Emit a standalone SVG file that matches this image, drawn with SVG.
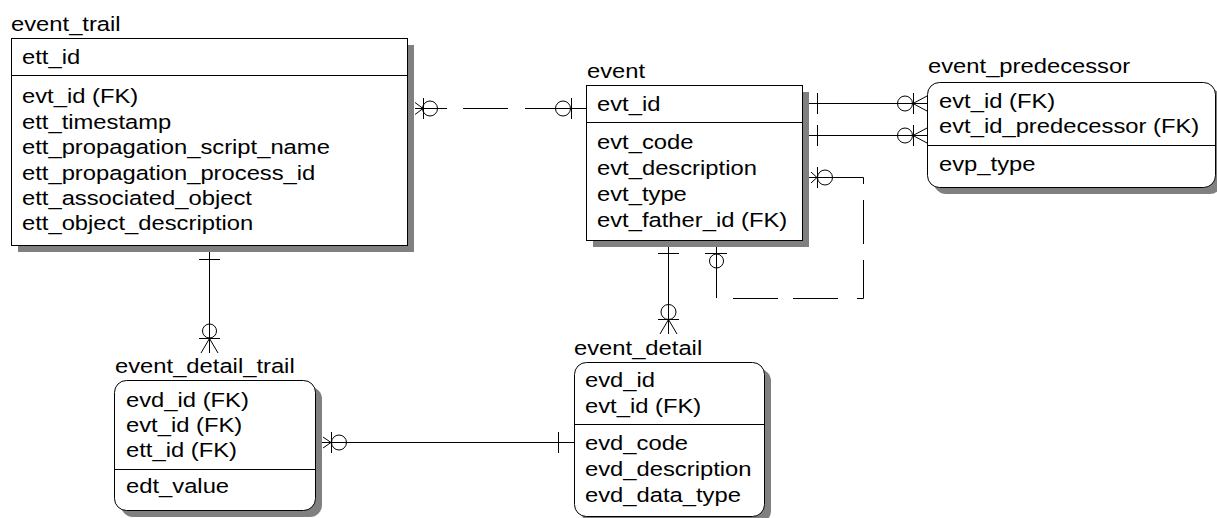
<svg xmlns="http://www.w3.org/2000/svg" width="1217" height="518" viewBox="0 0 1217 518">
<style>
  text { font-family: "Liberation Sans", Arial, sans-serif; font-size: 20.5px; fill: #000; }
  .box { fill: #fff; stroke: #000; stroke-width: 1; }
  .shadow { fill: #808080; stroke: none; }
  .sep { stroke: #000; stroke-width: 1; fill: none; }
  .ln { stroke: #000; stroke-width: 1; fill: none; }
</style>
<rect width="1217" height="518" fill="#fff"/>
<g id="connectors">
  <!-- event_trail - event (dashed) -->
  <path class="ln" d="M415,108.5 H586" stroke-dasharray="32 16 45 17 61"/>
  <path class="ln" d="M415,102.5 L423,108.5 L415,114.5 M423.5,98 V119 M571.5,98 V119"/>
  <circle class="ln" cx="430" cy="108.5" r="7.5"/>
  <circle class="ln" cx="563" cy="108.5" r="7.5"/>
  <!-- event - event_predecessor (evt_id) -->
  <path class="ln" d="M805,103.5 H927 M817.5,93 V114 M913.5,93 V114 M913,103.5 L927,96 M913,103.5 L927,111"/>
  <circle class="ln" cx="905" cy="103.5" r="7.5"/>
  <!-- event - event_predecessor (evt_id_predecessor) -->
  <path class="ln" d="M805,135.5 H927 M817.5,125 V146 M913.5,125 V146 M913,135.5 L927,128 M913,135.5 L927,143"/>
  <circle class="ln" cx="905" cy="135.5" r="7.5"/>
  <!-- event self relationship (dashed) -->
  <path class="ln" d="M716.5,247 V298.5 H863.5 V177.5 H805" stroke-dasharray="51 17 45 15 45 19 45 16 44 16 70"/>
  <path class="ln" d="M811,172 L817,177.5 L811,183 M817.5,167 V188 M705,253.5 H727"/>
  <circle class="ln" cx="825" cy="177.5" r="7.5"/>
  <circle class="ln" cx="716.5" cy="261" r="7"/>
  <!-- event - event_detail -->
  <path class="ln" d="M668.5,245 V334 M658,253.5 H679 M658,319.5 H679 M668.5,319.5 L660,334 M668.5,319.5 L677,334"/>
  <circle class="ln" cx="668.5" cy="312" r="7.5"/>
  <!-- event_trail - event_detail_trail -->
  <path class="ln" d="M209.5,249 V353 M199,259.5 H220 M199,338.5 H220 M209.5,338.5 L201,353 M209.5,338.5 L218,353"/>
  <circle class="ln" cx="209.5" cy="331" r="7"/>
  <!-- event_detail_trail - event_detail -->
  <path class="ln" d="M318,442.5 H574 M323,437 L331,442.5 L323,448 M331.5,432 V453 M558.5,432 V453"/>
  <circle class="ln" cx="339" cy="442.5" r="7.5"/>
</g>
<g id="event_trail">
  <rect class="shadow" x="18" y="45" width="396" height="207"/>
  <rect class="box" x="11.5" y="38.5" width="396" height="207"/>
  <path class="sep" d="M11.5,75.5 H407.5"/>
  <text transform="matrix(1.16 0 0 1 11 31)">event_trail</text>
  <text transform="matrix(1.16 0 0 1 22 64)">ett_id</text>
  <text transform="matrix(1.16 0 0 1 22 103)">evt_id (FK)</text>
  <text transform="matrix(1.16 0 0 1 22 129)">ett_timestamp</text>
  <text transform="matrix(1.16 0 0 1 22 154)">ett_propagation_script_name</text>
  <text transform="matrix(1.16 0 0 1 22 180)">ett_propagation_process_id</text>
  <text transform="matrix(1.16 0 0 1 22 205)">ett_associated_object</text>
  <text transform="matrix(1.16 0 0 1 22 230)">ett_object_description</text>
</g>
<g id="event">
  <rect class="shadow" x="593" y="92" width="216" height="155"/>
  <rect class="box" x="586.5" y="85.5" width="216" height="155"/>
  <path class="sep" d="M586.5,122.5 H802.5"/>
  <text transform="matrix(1.16 0 0 1 587 78)">event</text>
  <text transform="matrix(1.16 0 0 1 597 111)">evt_id</text>
  <text transform="matrix(1.16 0 0 1 597 149)">evt_code</text>
  <text transform="matrix(1.16 0 0 1 597 175)">evt_description</text>
  <text transform="matrix(1.16 0 0 1 597 201)">evt_type</text>
  <text transform="matrix(1.16 0 0 1 597 227)">evt_father_id (FK)</text>
</g>
<g id="event_predecessor">
  <rect class="shadow" x="934" y="89" width="288" height="105" rx="12"/>
  <rect class="box" x="927.5" y="82.5" width="288" height="105" rx="12"/>
  <path class="sep" d="M927.5,145.5 H1215.5"/>
  <text transform="matrix(1.16 0 0 1 928 73)">event_predecessor</text>
  <text transform="matrix(1.16 0 0 1 939 108)">evt_id (FK)</text>
  <text transform="matrix(1.16 0 0 1 939 133)">evt_id_predecessor (FK)</text>
  <text transform="matrix(1.16 0 0 1 939 171)">evp_type</text>
</g>
<g id="event_detail_trail">
  <rect class="shadow" x="121" y="387" width="201" height="130" rx="12"/>
  <rect class="box" x="114.5" y="380.5" width="201" height="130" rx="12"/>
  <path class="sep" d="M114.5,469.5 H315.5"/>
  <text transform="matrix(1.16 0 0 1 115 373)">event_detail_trail</text>
  <text transform="matrix(1.16 0 0 1 126 407)">evd_id (FK)</text>
  <text transform="matrix(1.16 0 0 1 126 432)">evt_id (FK)</text>
  <text transform="matrix(1.16 0 0 1 126 457)">ett_id (FK)</text>
  <text transform="matrix(1.16 0 0 1 126 493)">edt_value</text>
</g>
<g id="event_detail">
  <rect class="shadow" x="581" y="369" width="190" height="154" rx="12"/>
  <rect class="box" x="574.5" y="362.5" width="190" height="154" rx="12"/>
  <path class="sep" d="M574.5,424.5 H764.5"/>
  <text transform="matrix(1.16 0 0 1 574 355)">event_detail</text>
  <text transform="matrix(1.16 0 0 1 585 387)">evd_id</text>
  <text transform="matrix(1.16 0 0 1 585 413)">evt_id (FK)</text>
  <text transform="matrix(1.16 0 0 1 585 450)">evd_code</text>
  <text transform="matrix(1.16 0 0 1 585 476)">evd_description</text>
  <text transform="matrix(1.16 0 0 1 585 502)">evd_data_type</text>
</g>
</svg>
